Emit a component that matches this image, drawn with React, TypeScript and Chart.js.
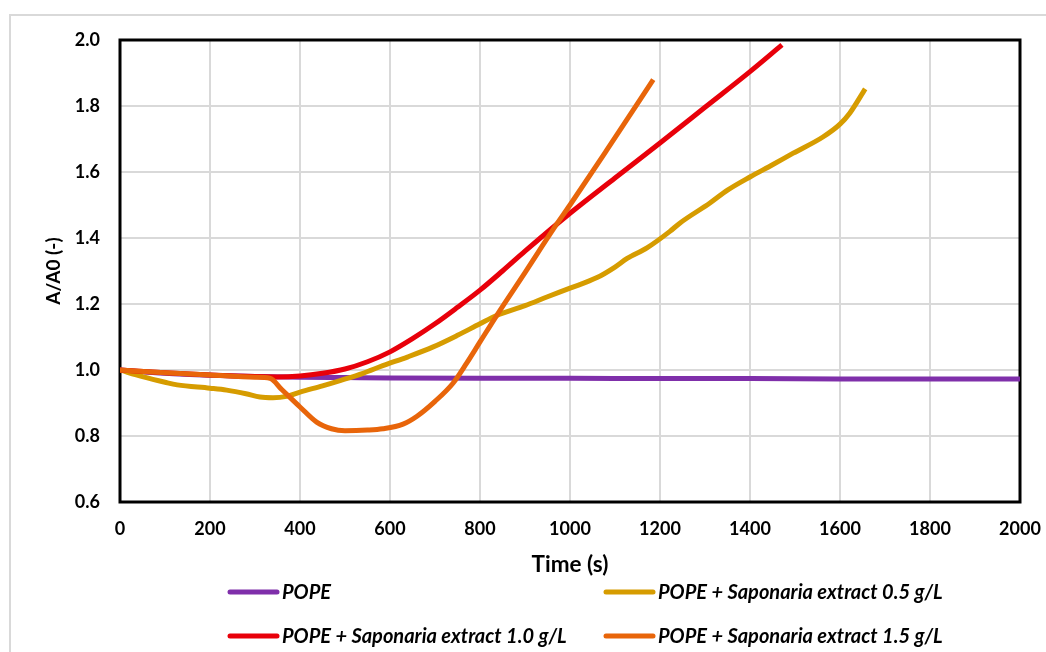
import React, { useEffect, useRef } from "react";
import { Chart, registerables } from "chart.js";

Chart.register(...registerables);

// ---------- data ----------
const seriesNames = [
  "POPE",
  "POPE + Saponaria extract 0.5 g/L",
  "POPE + Saponaria extract 1.0 g/L",
  "POPE + Saponaria extract 1.5 g/L",
];
const seriesColors = ["#7F2FAA", "#D69C00", "#E8000A", "#E8650A"];

const xTickValues = [0, 200, 400, 600, 800, 1000, 1200, 1400, 1600, 1800, 2000];
const yTickValues = [0.6, 0.8, 1.0, 1.2, 1.4, 1.6, 1.8, 2.0];

const popeTime = [0, 100, 200, 300, 400, 500, 600, 800, 1000, 1200, 1400, 1600, 1800, 2000];
const popeValue = [1.0, 0.99, 0.984, 0.98, 0.978, 0.977, 0.976, 0.975, 0.975, 0.974, 0.974, 0.973, 0.973, 0.973];

const sap05Time = [0, 50, 100, 127, 200, 237, 280, 311, 340, 370, 400, 450, 489, 540, 584, 640, 696, 750, 800, 837, 900, 950, 1000, 1060, 1100, 1127, 1171, 1222, 1244, 1311, 1350, 1400, 1450, 1496, 1562, 1600, 1622, 1656];
const sap05Value = [1.0, 0.98, 0.963, 0.955, 0.945, 0.939, 0.928, 0.918, 0.916, 0.92, 0.933, 0.952, 0.968, 0.99, 1.013, 1.04, 1.07, 1.105, 1.14, 1.165, 1.195, 1.222, 1.248, 1.28, 1.312, 1.338, 1.37, 1.42, 1.445, 1.506, 1.545, 1.585, 1.622, 1.657, 1.706, 1.745, 1.779, 1.852];

const sap10Time = [0, 100, 200, 300, 350, 400, 450, 500, 550, 600, 650, 700, 750, 800, 850, 900, 1000, 1100, 1200, 1300, 1400, 1471];
const sap10Value = [1.0, 0.992, 0.985, 0.98, 0.979, 0.982, 0.99, 1.003, 1.025, 1.055, 1.095, 1.14, 1.19, 1.242, 1.3, 1.36, 1.475, 1.582, 1.688, 1.796, 1.904, 1.985];

const sap15Time = [0, 100, 200, 300, 333, 360, 400, 437, 470, 500, 550, 584, 629, 660, 700, 740, 770, 800, 837, 900, 967, 1000, 1082, 1185];
const sap15Value = [1.0, 0.992, 0.985, 0.978, 0.975, 0.94, 0.888, 0.842, 0.822, 0.816, 0.818, 0.822, 0.836, 0.86, 0.905, 0.96, 1.02, 1.085, 1.165, 1.295, 1.435, 1.5, 1.667, 1.88];

const seriesTimes = [popeTime, sap05Time, sap10Time, sap15Time];
const seriesValues = [popeValue, sap05Value, sap10Value, sap15Value];

const xTitle = "Time (s)";
const yTitle = "A/A0 (-)";

// ---------- plugins ----------
const frameBorderPlugin = {
  id: "frameBorder",
  beforeDatasetsDraw(chart: any) {
    const { ctx, chartArea } = chart;
    ctx.save();
    ctx.strokeStyle = "#000000";
    ctx.lineWidth = 3;
    ctx.strokeRect(chartArea.left, chartArea.top, chartArea.right - chartArea.left, chartArea.bottom - chartArea.top);
    ctx.restore();
  },
};

const bottomLegendPlugin = {
  id: "bottomLegend",
  afterDraw(chart: any) {
    const { ctx } = chart;
    const colX = [230, 606];
    const rowY = [592, 636];
    ctx.save();
    chart.data.datasets.forEach((ds: any, i: number) => {
      const x = colX[i % 2];
      const y = rowY[Math.floor(i / 2)];
      ctx.strokeStyle = ds.borderColor;
      ctx.lineWidth = 5;
      ctx.lineCap = "round";
      ctx.beginPath();
      ctx.moveTo(x, y);
      ctx.lineTo(x + 47, y);
      ctx.stroke();
      ctx.fillStyle = "#000000";
      ctx.font = "italic bold 20px Lato";
      ctx.textAlign = "left";
      ctx.textBaseline = "middle";
      ctx.fillText(ds.label, x + 52, y + 1);
    });
    ctx.restore();
  },
};

export default function App() {
  const canvasRef = useRef<HTMLCanvasElement | null>(null);

  useEffect(() => {
    if (!canvasRef.current) return;
    const datasets = seriesNames.map((name, i) => ({
      label: name,
      data: seriesTimes[i].map((t, j) => ({ x: t, y: seriesValues[i][j] })),
      borderColor: seriesColors[i],
      backgroundColor: seriesColors[i],
      borderWidth: 5,
      pointRadius: 0,
      cubicInterpolationMode: "monotone" as const,
      fill: false,
      order: 3 - i,
    }));

    const chart = new Chart(canvasRef.current, {
      type: "line",
      data: { datasets },
      options: {
        animation: false,
        responsive: false,
        layout: { padding: { left: 0, right: 26, top: 40, bottom: 0 } },
        plugins: {
          legend: { display: false },
          tooltip: { enabled: false },
        },
        scales: {
          x: {
            type: "linear",
            min: 0,
            max: 2000,
            afterBuildTicks: (scale: any) => {
              scale.ticks = xTickValues.map((v) => ({ value: v }));
            },
            afterFit: (scale: any) => {
              scale.height = 150;
              scale.paddingLeft = 0;
              scale.paddingRight = 0;
            },
            grid: { color: "#d9d9d9", lineWidth: 2, drawTicks: false },
            border: { display: false },
            ticks: {
              padding: 16,
              color: "#000000",
              font: { family: "Lato", size: 18, weight: "bold" },
              maxRotation: 0,
              callback: (v: any) => String(v),
            },
            title: {
              display: true,
              text: xTitle,
              color: "#000000",
              font: { family: "Lato", size: 22.5, weight: "bold" },
              padding: { top: 0, bottom: 74 },
            },
          },
          y: {
            type: "linear",
            min: 0.6,
            max: 2.0,
            afterBuildTicks: (scale: any) => {
              scale.ticks = yTickValues.map((v) => ({ value: v }));
            },
            afterFit: (scale: any) => {
              scale.width = 120;
              scale.paddingTop = 0;
              scale.paddingBottom = 0;
            },
            grid: { color: "#d9d9d9", lineWidth: 2, drawTicks: false },
            border: { display: false },
            ticks: {
              padding: 20,
              color: "#000000",
              font: { family: "Lato", size: 18, weight: "bold" },
              callback: (v: any) => Number(v).toFixed(1),
            },
            title: {
              display: true,
              text: yTitle,
              color: "#000000",
              font: { family: "Lato", size: 19, weight: "bold" },
              padding: { top: 42, bottom: 0 },
            },
          },
        },
      },
      plugins: [frameBorderPlugin, bottomLegendPlugin],
    });
    return () => chart.destroy();
  }, []);

  return (
    <div style={{ position: "fixed", left: 0, top: 0, width: 1046, height: 652, overflow: "hidden", background: "#ffffff" }}>
      <div
        style={{
          position: "absolute",
          left: 9,
          top: 14,
          width: 1100,
          height: 700,
          border: "2px solid #d9d9d9",
          boxSizing: "border-box",
        }}
      />
      <canvas ref={canvasRef} width={1046} height={652} style={{ position: "absolute", left: 0, top: 0, display: "block" }} />
    </div>
  );
}
